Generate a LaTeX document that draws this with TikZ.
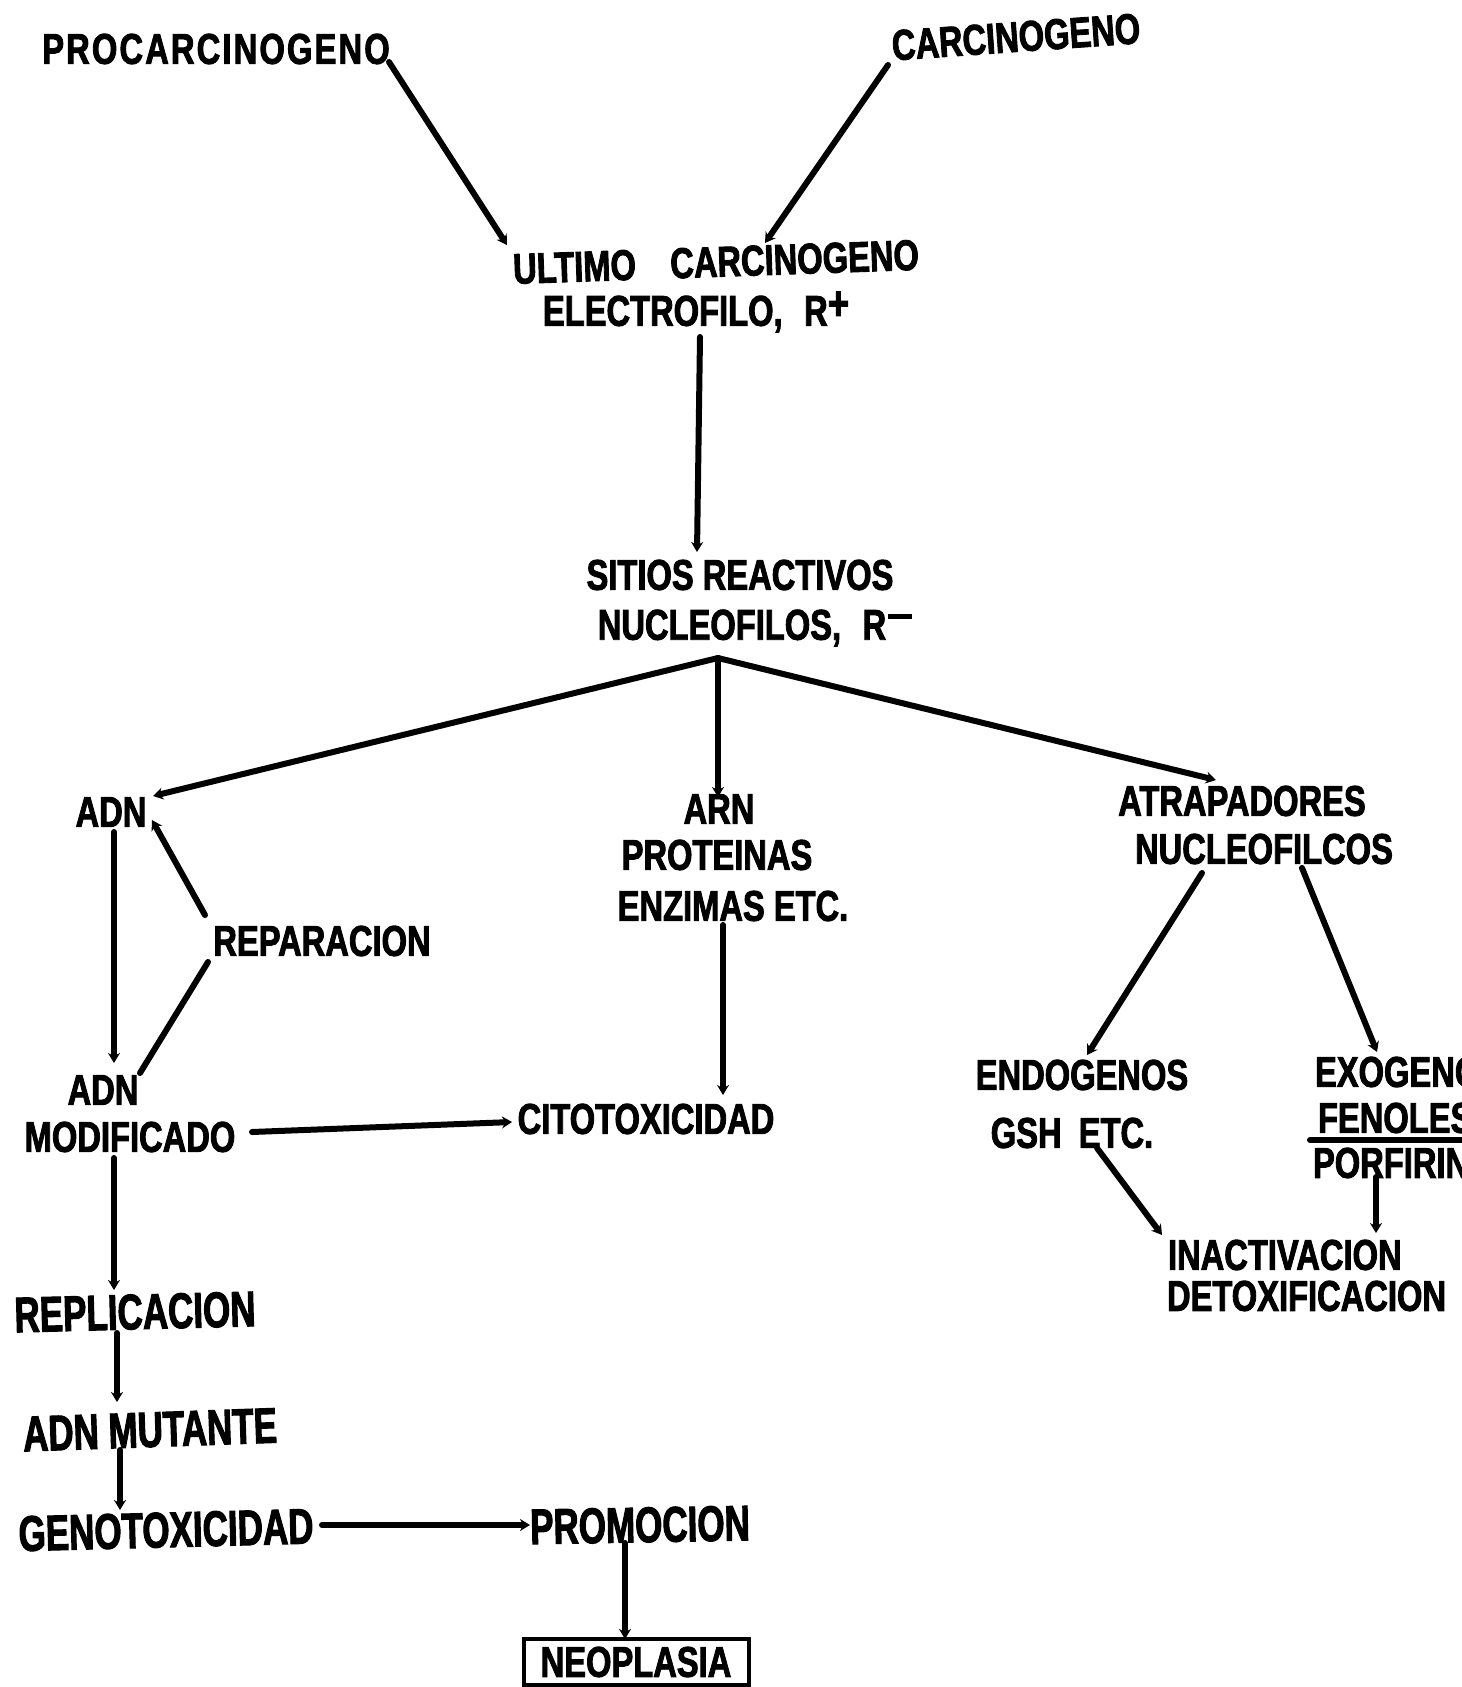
\documentclass[tikz,border=0pt]{standalone}
\usepackage{fontspec}
\setmainfont{Liberation Sans}
\newfontfamily\lblfont{Liberation Sans}[FakeStretch=0.76, BoldFeatures={FakeBold=2}]
\newfontfamily\tallfont{Liberation Sans}[FakeStretch=0.70, BoldFeatures={FakeBold=2}]
\usetikzlibrary{calc,arrows.meta}
\begin{document}
\begin{tikzpicture}[x=0.5pt,y=-0.5pt,
  lbl/.style={font=\lblfont\bfseries\fontsize{21.5}{25}\selectfont, inner sep=0pt, outer sep=0pt},
  tall/.style={font=\tallfont\bfseries\fontsize{25}{28}\selectfont, inner sep=0pt, outer sep=0pt},
  wide/.style={font=\lblfont\bfseries\fontsize{21.5}{25}\selectfont\addfontfeatures{LetterSpace=5}},
  conn/.style={line width=3pt, line cap=round},
  arr/.style={conn, -{Stealth[length=5pt,width=6pt]}}]
\useasboundingbox (0,0) rectangle (1462,1687);
\clip (0,0) rectangle (1462,1687);

% nodes
\node[lbl, wide] (proc) at (216,49) {PROCARCINOGENO};
\node[lbl, rotate=4] (carc) at (1016,37) {CARCINOGENO};
\node[lbl, rotate=2] (ult1) at (716,262) {ULTIMO\hspace{0.8em}CARCINOGENO};
\node[lbl] (ult2) at (696,312) {ELECTROFILO,\hspace{0.5em}R\raisebox{3pt}{\fontsize{24}{24}\selectfont +}};
\node[lbl] (sit1) at (740,575) {SITIOS REACTIVOS};
\node[lbl] (sit2) at (755,628) {NUCLEOFILOS,\hspace{0.5em}R\kern1pt\raisebox{10.5pt}{\rule{12pt}{2.4pt}}};
\node[lbl] (adn) at (111,812) {ADN};
\node[lbl] (arn1) at (719,809) {ARN};
\node[lbl] (arn2) at (717,855) {PROTEINAS};
\node[lbl] (arn3) at (733,906) {ENZIMAS ETC.};
\node[lbl] (atr1) at (1242,801) {ATRAPADORES};
\node[lbl] (atr2) at (1264,849) {NUCLEOFILCOS};
\node[lbl] (rep) at (322,941) {REPARACION};
\node[lbl] (adnm1) at (103,1090) {ADN};
\node[lbl] (adnm2) at (130,1137) {MODIFICADO};
\node[lbl] (cito) at (646,1119) {CITOTOXICIDAD};
\node[lbl] (endo1) at (1082,1075) {ENDOGENOS};
\node[lbl] (endo2) at (1072,1133) {GSH\hspace{0.4em}ETC.};
\node[lbl, anchor=west] (exo1) at (1315,1072) {EXOGENOS};
\node[lbl, anchor=west] (exo2) at (1318,1118) {FENOLES};
\node[lbl, anchor=west] (exo3) at (1313,1163) {PORFIRINAS};
\node[lbl, anchor=west] (inac1) at (1168,1255) {INACTIVACION};
\node[lbl, anchor=west] (inac2) at (1167,1296) {DETOXIFICACION};
\node[tall, rotate=1.5] (repl) at (135,1312) {REPLICACION};
\node[tall, rotate=2] (mut) at (150,1430) {ADN MUTANTE};
\node[tall, rotate=1.5] (geno) at (166,1530) {GENOTOXICIDAD};
\node[tall, rotate=1] (prom) at (640,1525) {PROMOCION};
\node[lbl, draw, line width=2pt, minimum width=112.5pt, minimum height=23pt] (neo) at (636,1662) {NEOPLASIA};

% connectors
\draw[arr] ($(proc.center)+(173,13)$) -- ($(ult1.center)+(-209,-17)$);
\draw[arr] ($(carc.center)+(-128,28)$) -- ($(ult1.center)+(49,-19)$);
\draw[arr] ($(ult2.center)+(4,25)$) -- ($(sit1.center)+(-43,-23)$);
\coordinate (br) at ($(sit2.center)+(-37,30)$);
\draw[arr] (br) -- ($(adn.center)+(42,-16)$);
\draw[arr] (br) -- ($(arn1.center)+(-1,-12)$);
\draw[arr] (br) -- ($(atr1.center)+(-26,-21)$);
\draw[arr] ($(adn.center)+(3,20)$) -- ($(adnm1.center)+(11,-27)$);
\draw[arr] ($(rep.center)+(-117,-26)$) -- ($(adn.center)+(41,8)$);
\draw[conn] ($(adnm1.center)+(37,-17)$) -- ($(rep.center)+(-114,21)$);
\draw[arr] ($(adnm2.center)+(122,-5)$) -- ($(cito.center)+(-134,3)$);
\draw[arr] ($(arn3.center)+(-10,19)$) -- ($(cito.center)+(77,-24)$);
\draw[arr] ($(adnm2.center)+(-16,21)$) -- ($(repl.center)+(-21,-22)$);
\draw[arr] ($(repl.center)+(-18,21)$) -- ($(mut.center)+(-33,-28)$);
\draw[arr] ($(mut.center)+(-30,20)$) -- ($(geno.center)+(-46,-20)$);
\draw[arr] ($(geno.center)+(156,-5)$) -- ($(prom.center)+(-110,0)$);
\draw[arr] ($(prom.center)+(-15,18)$) -- ($(neo.center)+(-11,-23)$);
\draw[arr] ($(atr2.center)+(-62,24)$) -- ($(endo1.center)+(5,-20)$);
\draw[arr] ($(atr2.center)+(38,19)$) -- ($(exo1.west)+(62,-20)$);
\draw[arr] ($(endo2.center)+(25,15)$) -- ($(inac1.west)+(-6,-20)$);
\draw[arr] ($(exo3.west)+(63,14)$) -- ($(inac1.west)+(208,-22)$);
\coordinate (ulend) at ($(exo2.west)+(200,22)$);
\draw[conn] ($(exo2.west)+(-8,22)$) -- (ulend);
\end{tikzpicture}
\end{document}
